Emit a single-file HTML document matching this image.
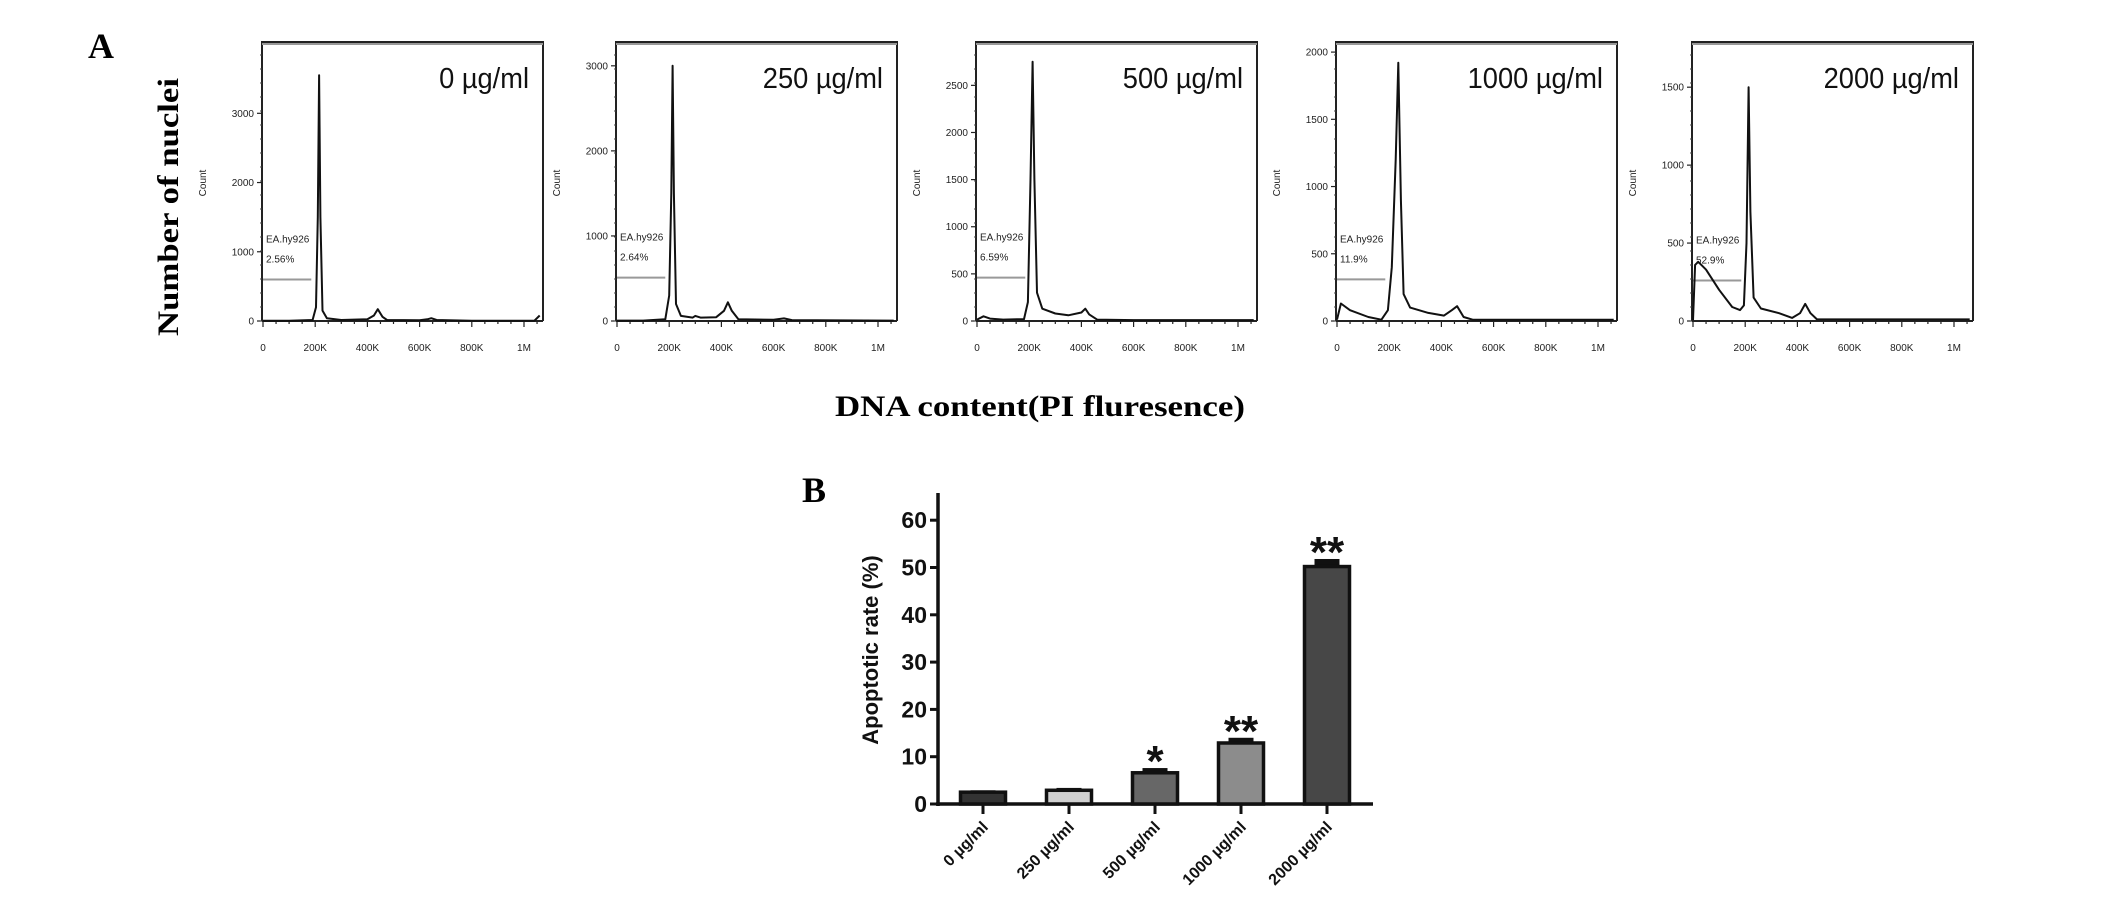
<!DOCTYPE html>
<html><head><meta charset="utf-8">
<style>
html,body{margin:0;padding:0;background:#fff;}
svg{display:block;}
</style></head>
<body>
<svg id="fig" width="2126" height="905" viewBox="0 0 2126 905" xmlns="http://www.w3.org/2000/svg">
<text x="88" y="58" font-family="Liberation Serif, serif" font-weight="bold" font-size="36">A</text>
<text transform="translate(178,207) rotate(-90)" text-anchor="middle" font-family="Liberation Serif, serif" font-weight="bold" font-size="30" textLength="258" lengthAdjust="spacingAndGlyphs">Number of nuclei</text>
<text x="1040" y="416" text-anchor="middle" font-family="Liberation Serif, serif" font-weight="bold" font-size="30" textLength="410" lengthAdjust="spacingAndGlyphs">DNA content(PI fluresence)</text>
<text x="802" y="502" font-family="Liberation Serif, serif" font-weight="bold" font-size="36">B</text>
<g id="hists"></g>
<g id="bars"></g>
</svg>
<script>
// ---------- Panel A data ----------
const concLabels = ["0 µg/ml","250 µg/ml","500 µg/ml","1000 µg/ml","2000 µg/ml"];
const gatePercents = ["2.56%","2.64%","6.59%","11.9%","52.9%"];
const yMaxCounts = [4030, 3280, 2960, 2075, 1790];
const yTicks0 = [0,1000,2000,3000];
const yTicks1 = [0,1000,2000,3000];
const yTicks2 = [0,500,1000,1500,2000,2500];
const yTicks3 = [0,500,1000,1500,2000];
const yTicks4 = [0,500,1000,1500];
const gateLevels = [600, 510, 460, 310, 260];
const xTickValues = [0,200,400,600,800,1000];
const xTickLabels = ["0","200K","400K","600K","800K","1M"];
const hist0 = [[0,5],[100,5],[190,15],[203,200],[210,1500],[215,3550],[220,1500],[228,150],[245,40],[300,15],[400,25],[425,80],[440,170],[458,60],[475,15],[600,10],[630,25],[645,40],[665,15],[800,5],[1040,5],[1060,80]];
const hist1 = [[0,5],[100,5],[185,20],[200,300],[208,1500],[213,3000],[218,1500],[226,200],[245,60],[290,40],[300,60],[320,40],[380,45],[410,120],[425,220],[440,120],[465,20],[600,15],[640,30],[670,10],[1060,5]];
const hist2 = [[0,15],[25,50],[50,25],[100,15],[180,20],[195,200],[205,1500],[213,2750],[220,1500],[230,300],[250,130],[300,80],[350,60],[400,90],[415,130],[430,70],[460,15],[600,10],[1060,10]];
const hist3 = [[0,10],[15,130],[50,80],[120,30],[170,10],[195,80],[210,400],[225,1200],[235,1920],[245,900],[255,200],[280,100],[350,60],[410,40],[440,80],[460,110],[485,30],[520,10],[800,10],[1060,10]];
const hist4 = [[0,5],[8,360],[20,380],[50,330],[100,200],[150,90],[180,70],[195,100],[205,500],[213,1500],[220,700],[232,150],[260,80],[330,50],[380,20],[410,50],[430,110],[450,50],[475,10],[650,10],[1060,10]];
const histSeries = [hist0,hist1,hist2,hist3,hist4];
const yTickSets = [yTicks0,yTicks1,yTicks2,yTicks3,yTicks4];

// ---------- Panel B data ----------
const barCategories = ["0 µg/ml","250 µg/ml","500 µg/ml","1000 µg/ml","2000 µg/ml"];
const barValues = [2.5, 2.9, 6.6, 12.9, 50.2];
const barErrors = [0.4, 0.5, 1.0, 1.1, 1.6];
const barSig = ["", "", "*", "**", "**"];
const barYTicks = [0,10,20,30,40,50,60];
const barColors = ["#333","#d0d0d0","#676767","#8c8c8c","#474747"];

const NS = "http://www.w3.org/2000/svg";
function mk(tag, attrs, parent){const e=document.createElementNS(NS,tag);for(const k in attrs)e.setAttribute(k,attrs[k]);parent.appendChild(e);return e;}

// ---------- Draw histograms ----------
const hg = document.getElementById('hists');
const panelLefts = [262,616,976,1336,1692];
const PW = 281, TOP = 42, BASE = 321;
for(let i=0;i<5;i++){
  const L = panelLefts[i];
  const g = mk('g',{},hg);
  
  
  const xs = k => L + 1 + k*0.261;
  const ys = c => BASE - c/yMaxCounts[i]*(BASE-TOP);
  const fr = mk('path',{d:`M${L},${BASE} L${L},${TOP} L${L+PW},${TOP} L${L+PW},${BASE}`,fill:'none',stroke:'#222','stroke-width':2},g);
  
  
  mk('line',{x1:L,x2:L+PW,y1:TOP+2,y2:TOP+2,stroke:'#999','stroke-width':2},g);
  const ax = mk('line',{x1:L,x2:L+PW,y1:BASE,y2:BASE,stroke:'#222','stroke-width':2},g);
  
  
  for(let k=0;k<=1060;k+=50){
    mk('line',{x1:xs(k),x2:xs(k),y1:BASE,y2:BASE+(k%200===0?6:3),stroke:'#222','stroke-width':1.2},g);
  }
  xTickValues.forEach((v,j)=>{
    const t = mk('text',{x:xs(v),y:BASE+30,'text-anchor':'middle','font-family':'Liberation Sans, sans-serif','font-size':10,fill:'#222'},g);
    
    
    t.textContent = xTickLabels[j];
  });
  yTickSets[i].forEach(v=>{
    mk('line',{x1:L-5,x2:L,y1:ys(v),y2:ys(v),stroke:'#222','stroke-width':1.2},g);
    const t = mk('text',{x:L-8,y:ys(v)+3.5,'text-anchor':'end','font-family':'Liberation Sans, sans-serif','font-size':10,fill:'#222'},g);
    
    
    t.textContent = v;
  });
  for(let y=BASE;y>TOP;y-=14) mk('line',{x1:L-2,x2:L,y1:y,y2:y,stroke:'#444','stroke-width':1},g);
  const ct = mk('text',{transform:`translate(${L-56},${183}) rotate(-90)`,'text-anchor':'middle','font-family':'Liberation Sans, sans-serif','font-size':10,fill:'#222'},g);
  
  
  ct.textContent='Count';
  const gy = ys(gateLevels[i]);
  const gl = mk('line',{x1:L+1,x2:xs(185),y1:gy,y2:gy,stroke:'#999','stroke-width':2},g);
  
  
  const t1 = mk('text',{x:L+4,y:gy-37,'font-family':'Liberation Sans, sans-serif','font-size':10,fill:'#222'},g);
  
  
  t1.textContent='EA.hy926';
  const t2 = mk('text',{x:L+4,y:gy-17,'font-family':'Liberation Sans, sans-serif','font-size':10,fill:'#222'},g);
  
  
  t2.textContent=gatePercents[i];
  const d = histSeries[i].map((p,j)=>(j?'L':'M')+xs(p[0]).toFixed(1)+','+ys(p[1]).toFixed(1)).join(' ');
  const cv = mk('path',{d:d,fill:'none',stroke:'#111','stroke-width':2,'stroke-linejoin':'round'},g);
  
  
  const cl = mk('text',{x:L+PW-14,y:88,'text-anchor':'end','font-family':'Liberation Sans, sans-serif','font-size':29,fill:'#111',transform:`translate(${(L+PW-14)*0.06},0) scale(0.94,1)`},g);
  
  
  cl.textContent = concLabels[i];
}

// ---------- Draw bar chart ----------
const bg = document.getElementById('bars');
const AX = 938, AXTOP = 493, AXR = 1373, ZERO = 804, PER = 4.73;
const by = v => ZERO - v*PER;
const bx = i => 983 + i*86;
const yax = mk('line',{x1:AX,x2:AX,y1:AXTOP,y2:ZERO+2,stroke:'#111','stroke-width':3.5},bg);


const xax = mk('line',{x1:AX-2,x2:AXR,y1:ZERO,y2:ZERO,stroke:'#111','stroke-width':3.5},bg);


barYTicks.forEach(v=>{
  mk('line',{x1:AX-8,x2:AX,y1:by(v),y2:by(v),stroke:'#111','stroke-width':3},bg);
  const t = mk('text',{x:AX-11,y:by(v)+8,'text-anchor':'end','font-family':'Liberation Sans, sans-serif','font-weight':'bold','font-size':23,fill:'#111'},bg);
  
  
  t.textContent = v;
});
const yt = mk('text',{transform:'translate(878,650) rotate(-90)','text-anchor':'middle','font-family':'Liberation Sans, sans-serif','font-weight':'bold','font-size':22,fill:'#111'},bg);


yt.textContent='Apoptotic rate (%)';
barValues.forEach((v,i)=>{
  const cx = bx(i), w = 45;
  const e = mk('rect',{x:cx-w/2+10,y:by(v+barErrors[i]),width:w-20,height:(barErrors[i])*PER,fill:'#111'},bg);
  
  
  const r = mk('rect',{x:cx-w/2,y:by(v),width:w,height:v*PER,fill:barColors[i],stroke:'#111','stroke-width':3.5},bg);
  
  
  mk('line',{x1:cx,x2:cx,y1:ZERO,y2:ZERO+10,stroke:'#111','stroke-width':3},bg);
  if(barSig[i]){
    const s = mk('text',{x:cx,y:by(v+barErrors[i])+8,'text-anchor':'middle','font-family':'Liberation Sans, sans-serif','font-weight':'bold','font-size':44,fill:'#111'},bg);
    
    
    s.textContent = barSig[i];
  }
  const tl = mk('text',{transform:`translate(${cx+6},${ZERO+24}) rotate(-45)`,'text-anchor':'end','font-family':'Liberation Sans, sans-serif','font-weight':'bold','font-size':16,fill:'#111'},bg);
  
  
  tl.textContent = barCategories[i];
});
</script>
</body></html>
